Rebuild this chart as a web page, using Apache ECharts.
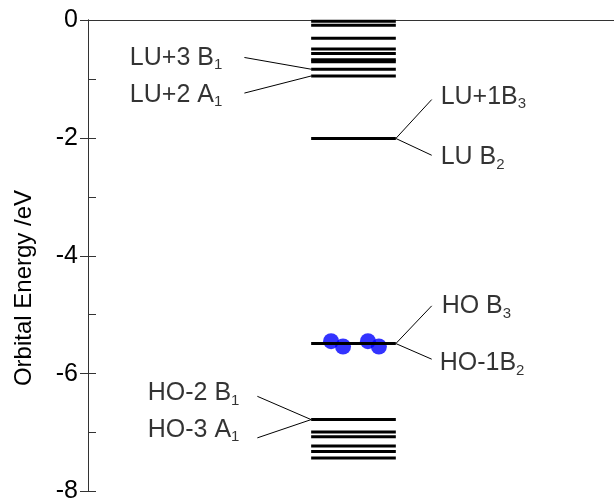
<!DOCTYPE html>
<html>
<head>
<meta charset="utf-8">
<script src="https://cdn.jsdelivr.net/npm/echarts@6/dist/echarts.min.js"></script>
<style>
html,body{margin:0;padding:0;background:#fff;}
#chart{width:614px;height:504px;}
</style>
</head>
<body>
<div id="chart"></div>
<script>
// ---- data ----
const yTickValues = [0, -2, -4, -6, -8];
const upperLevels = [-0.02, -0.09, -0.31, -0.49, -0.57, -0.675, -0.71, -0.835, -0.95];
const lumoLevels = [-2.01];
const homoLevels = [-5.49];
const lowerLevels = [-6.78, -6.99, -7.07, -7.23, -7.32, -7.43];
const electronX = [244, 256, 281, 292];
const electronY = [-5.45, -5.54, -5.45, -5.54];
const labelMain = ['LU+3 B', 'LU+2 A', 'LU+1B', 'LU B', 'HO B', 'HO-1B', 'HO-2 B', 'HO-3 A'];
const labelSub = ['1', '1', '3', '2', '3', '2', '1', '1'];
const labelX = [42, 42, 354, 354, 355, 353, 60, 60];
const labelY = [-0.64, -1.266, -1.30, -2.33, -4.86, -5.82, -6.33, -6.95];
// connectors: [xStart, yStart, xEnd, yEnd]
const connectors = [
  [157, -0.636, 224, -0.835],
  [157, -1.24, 224, -0.95],
  [309, -2.01, 345, -1.35],
  [309, -2.01, 345, -2.295],
  [309, -5.49, 345, -4.85],
  [309, -5.49, 345, -5.755],
  [170, -6.385, 224, -6.78],
  [170, -7.09, 224, -6.78]
];
const LEVEL_X0 = 224, LEVEL_X1 = 309;
const FONT = '"Liberation Sans", Arial, sans-serif';

const chart = echarts.init(document.getElementById('chart'), null, {renderer: 'canvas'});

function levelSeries(levels) {
  return {
    type: 'custom',
    z: 5,
    silent: true,
    clip: false,
    data: levels.map(e => [e]),
    encode: {y: 0},
    renderItem: function (params, api) {
      const e = api.value(0);
      const p0 = api.coord([LEVEL_X0, e]);
      const p1 = api.coord([LEVEL_X1, e]);
      return {type: 'line', shape: {x1: p0[0], y1: p0[1], x2: p1[0], y2: p1[1]},
        style: {stroke: '#000', lineWidth: 3}};
    }
  };
}

const option = {
  animation: false,
  backgroundColor: '#fff',
  grid: {left: 88, right: -2, top: 20, bottom: 10},
  xAxis: [
    {type: 'value', min: 0, max: 528, position: 'bottom',
     axisLine: {show: true, lineStyle: {color: '#333', width: 1}},
     axisTick: {show: false}, axisLabel: {show: false}, splitLine: {show: false}},
    {type: 'value', min: 0, max: 528, position: 'top',
     axisLine: {show: true, lineStyle: {color: '#333', width: 1}},
     axisTick: {show: false}, axisLabel: {show: false}, splitLine: {show: false}}
  ],
  yAxis: [
    {type: 'value', min: -8, max: 0, interval: 1, position: 'left',
     axisLine: {show: true, lineStyle: {color: '#333', width: 1}},
     axisTick: {show: true, inside: true, length: 8, lineStyle: {color: '#333'}},
     axisLabel: {show: true, margin: 10, color: '#000', fontSize: 25, fontFamily: FONT,
       formatter: v => (yTickValues.indexOf(v) >= 0 ? String(v) : '')},
     splitLine: {show: false}},
    {type: 'value', min: -8, max: 0, interval: 2, position: 'right',
     axisLine: {show: true, lineStyle: {color: '#333', width: 1}},
     axisTick: {show: true, inside: true, length: 8, lineStyle: {color: '#333'}},
     axisLabel: {show: false}, splitLine: {show: false}}
  ],
  graphic: [
    {type: 'text', x: 24, y: 288, rotation: Math.PI / 2,
     style: {text: 'Orbital Energy /eV', font: '24px ' + FONT, fill: '#000',
       align: 'center', verticalAlign: 'middle'}}
  ],
  series: [
    {
      type: 'scatter', z: 2, silent: true,
      symbol: 'circle', symbolSize: 16,
      itemStyle: {color: '#0000ff'},
      data: electronX.map((x, i) => [x, electronY[i]])
    },
    levelSeries(upperLevels),
    levelSeries(lumoLevels),
    levelSeries(homoLevels),
    levelSeries(lowerLevels),
    {
      type: 'custom', z: 4, silent: true, clip: false,
      data: connectors,
      encode: {x: [0, 2], y: [1, 3]},
      renderItem: function (params, api) {
        const p0 = api.coord([api.value(0), api.value(1)]);
        const p1 = api.coord([api.value(2), api.value(3)]);
        return {type: 'line', shape: {x1: p0[0], y1: p0[1], x2: p1[0], y2: p1[1]},
          style: {stroke: '#000', lineWidth: 1}};
      }
    },
    {
      type: 'scatter', z: 6, silent: true,
      symbolSize: 0,
      data: labelX.map((x, i) => ({value: [x, labelY[i]], main: labelMain[i], sub: labelSub[i]})),
      label: {
        show: true, position: 'right', distance: 0,
        formatter: function (p) { return '{m|' + p.data.main + '}{s|' + p.data.sub + '}'; },
        rich: {
          m: {fontSize: 25, fontFamily: FONT, color: '#000', verticalAlign: 'middle'},
          s: {fontSize: 15, fontFamily: FONT, color: '#000', verticalAlign: 'middle', padding: [15, 0, 0, 0]}
        }
      }
    }
  ]
};
chart.setOption(option);
</script>
</body>
</html>
